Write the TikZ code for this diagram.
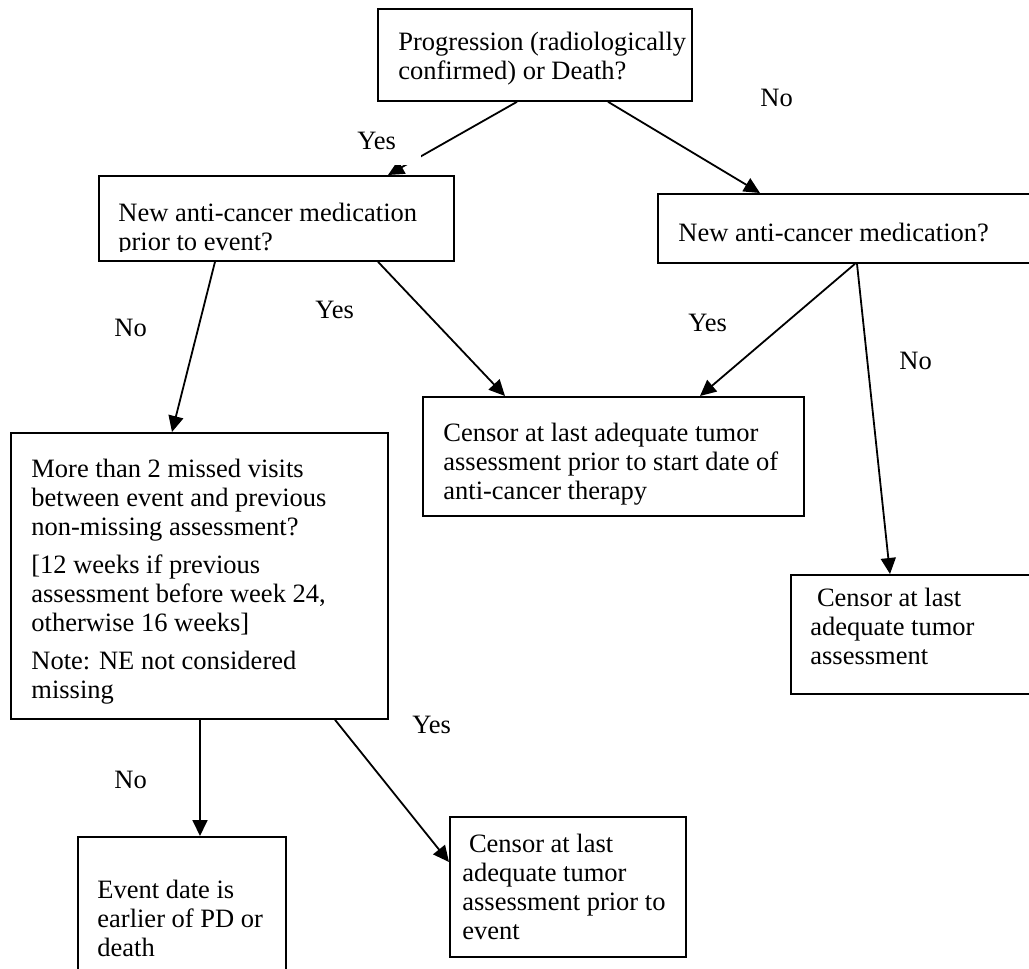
\documentclass[tikz,border=0pt]{standalone}
\usepackage{fontspec}
\setmainfont{Liberation Serif}
\usetikzlibrary{arrows.meta,calc}
\newcommand\myst{\rule{0pt}{10.15pt}}
\begin{document}
\begin{tikzpicture}[x=0.5pt,y=-0.5pt,
  box/.style={draw, line width=0.9pt, inner sep=0pt, anchor=north west},
  txt/.style={anchor=north west, inner sep=0pt, align=left, font=\fontsize{13.25pt}{14.5pt}\selectfont},
  lab/.style={anchor=base west, inner sep=0pt, font=\fontsize{13.25pt}{14.5pt}\selectfont},
  arr/.style={line width=0.9pt, -{Triangle[length=8pt,width=7.5pt]}}]
\useasboundingbox (0,0) rectangle (1029,969);
\clip (0,0) rectangle (1029,969);
% boxes
\node[box, minimum width=157pt, minimum height=46pt] (b1) at (377,8) {};
\node[box, minimum width=177.5pt, minimum height=42.5pt] (b2) at (98,175) {};
\node[box, minimum width=191.5pt, minimum height=34.5pt] (b3) at (657,193) {};
\node[box, minimum width=190.5pt, minimum height=59.5pt] (b4) at (422,396) {};
\node[box, minimum width=188.5pt, minimum height=143pt] (b5) at (10,432) {};
\node[box, minimum width=125pt, minimum height=59.5pt] (b6) at (790,574) {};
\node[box, minimum width=104pt, minimum height=77pt] (b7) at (77,836) {};
\node[box, minimum width=118pt, minimum height=70pt] (b8) at (449,816) {};
% texts
\node[txt] (t1) at (398,29.7) {\myst Progression (radiologically\\confirmed) or Death?};
\begin{scope}
\clip (98,175) rectangle (453,251);
\node[txt] (t2) at (118,200.7) {\myst New anti-cancer medication\\prior to event?};
\end{scope}
\node[txt] (t3) at (678,220.7) {\myst New anti-cancer medication?};
\node[txt] (t4) at (443,420.7) {\myst Censor at last adequate tumor\\assessment prior to start date of\\anti-cancer therapy};
\begin{scope}
\clip (10,432) rectangle (387,704);
\node[txt] (t5) at (31,456.7) {\myst More than 2 missed visits\\between event and previous\\non-missing assessment?\\[4.5pt][12 weeks if previous\\assessment before week 24,\\otherwise 16 weeks]\\[4.5pt]Note: NE not considered\\missing};
\end{scope}
\node[txt] (t6) at (810,585.7) {\myst\ Censor at last\\adequate tumor\\assessment};
\node[txt] (t7) at (97,877.7) {\myst Event date is\\earlier of PD or\\death};
\node[txt] (t8) at (462,831.7) {\myst\ Censor at last\\adequate tumor\\assessment prior to\\event};
% connectors
\draw[arr] ($(b1.south west)+(140,0)$) -- ($(b2.north west)+(290,0)$);
\draw[arr] ($(b1.south west)+(231,0)$) -- ($(b3.north west)+(103,0)$);
\draw[arr] ($(b2.south west)+(117,0)$) -- ($(b5.north west)+(162,0)$);
\draw[arr] ($(b2.south west)+(280,0)$) -- ($(b4.north west)+(83,0)$);
\draw[arr] ($(b3.south west)+(198,0)$) -- ($(b4.north west)+(278,0)$);
\draw[arr] ($(b3.south west)+(200,0)$) -- ($(b6.north west)+(100,0)$);
\draw[arr] ($(b5.south west)+(190,0)$) -- ($(b7.north west)+(123,0)$);
\draw[arr] ($(b5.south west)+(325,0)$) -- ($(b8.north west)+(0,46)$);
% labels
\fill[white] (330,112) rectangle (421,165);
\node[lab] (y1) at (357,149) {Yes};
\node[lab] (n1) at (760,106) {No};
\node[lab] (n2) at (114,336) {No};
\node[lab] (y2) at (315,318) {Yes};
\node[lab] (y3) at (688,331) {Yes};
\node[lab] (n3) at (899,369) {No};
\node[lab] (n4) at (114,788) {No};
\node[lab] (y4) at (412,733) {Yes};
\end{tikzpicture}
\end{document}
